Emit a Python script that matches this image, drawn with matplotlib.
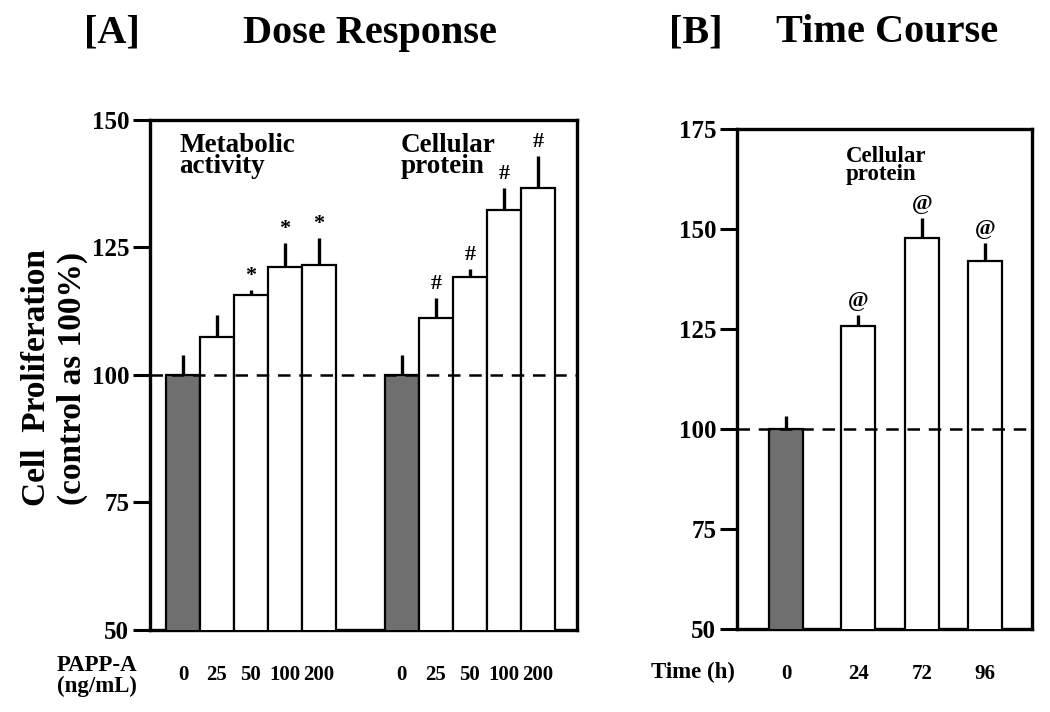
import matplotlib
matplotlib.use("Agg")
import matplotlib.pyplot as plt
import numpy as np

plt.rcParams['font.family'] = ['Liberation Serif', 'DejaVu Serif']
plt.rcParams['font.weight'] = 'bold'

# ---------------- data ----------------
dose_labels = ['0', '25', '50', '100', '200']
metabolic = [100.0, 107.4, 115.6, 121.1, 121.6]
metabolic_err = [3.9, 4.3, 1.1, 4.8, 5.3]
metabolic_marks = ['', '', '*', '*', '*']
protein = [100.0, 111.2, 119.3, 132.4, 136.7]
protein_err = [3.9, 3.8, 1.5, 4.3, 6.2]
protein_marks = ['', '#', '#', '#', '#']

time_labels = ['0', '24', '72', '96']
time_protein = [100.0, 125.8, 147.8, 141.9]
time_err = [3.2, 2.6, 4.9, 4.5]
time_marks = ['', '@', '@', '@']

# ---------------- layout ----------------
W, H = 1050, 712
fig = plt.figure(figsize=(W / 100, H / 100), dpi=100)

def px_axes(l, t, r, b):
    return fig.add_axes([l / W, 1 - b / H, (r - l) / W, (b - t) / H])

axA = px_axes(150, 120, 577, 630)
axB = px_axes(737, 129, 1032, 629)

dark = '#6f6f6f'
spine_lw = 2.4
edge_lw = 1.6
tick_fs = 18
label_fs = 15

def style_axes(ax, yticks):
    for s in ax.spines.values():
        s.set_linewidth(spine_lw)
    ax.set_yticks(yticks)
    ax.set_yticklabels([str(v) for v in yticks], fontsize=tick_fs, fontweight='bold')
    ax.tick_params(axis='y', length=12, width=2.2, direction='out', pad=3)
    ax.tick_params(axis='x', length=0, pad=25)
    ax.axhline(100, color='black', lw=1.8, ls=(0, (5, 3.5)), zorder=5)

def draw_group(ax, xs, vals, errs, marks, mark_fs):
    colors = [dark] + ['white'] * (len(vals) - 1)
    ax.bar(xs, vals, width=1.0, bottom=0, color=colors, edgecolor='black',
           linewidth=edge_lw, zorder=3)
    ax.errorbar(xs, vals, yerr=[np.zeros(len(errs)), errs], fmt='none',
                ecolor='black', elinewidth=2.4, capsize=0, zorder=4)
    for x, v, e, m in zip(xs, vals, errs, marks):
        if m:
            ax.annotate(m, (x, v + e), xytext=(0, 3), textcoords='offset points',
                        ha='center', va='bottom', fontsize=mark_fs, fontweight='bold')

# ---- Panel A ----
g1 = np.arange(5)
g2 = np.arange(5) + 6.44
draw_group(axA, g1, metabolic, metabolic_err, metabolic_marks, 16)
draw_group(axA, g2, protein, protein_err, protein_marks, 16)
axA.set_xlim(-0.97, 11.59)
axA.set_ylim(50, 150)
style_axes(axA, [50, 75, 100, 125, 150])
axA.set_xticks(list(g1) + list(g2))
axA.set_xticklabels(dose_labels + dose_labels, fontsize=label_fs, fontweight='bold')
axA.text(0.068, 0.975, 'Metabolic\nactivity', transform=axA.transAxes, ha='left', va='top',
         fontsize=19.5, fontweight='bold', linespacing=0.8)
axA.text(0.587, 0.975, 'Cellular\nprotein', transform=axA.transAxes, ha='left', va='top',
         fontsize=19.5, fontweight='bold', linespacing=0.8)

# ---- Panel B ----
tpos = [0, 2.13, 4.0, 5.85]
draw_group(axB, tpos, time_protein, time_err, time_marks, 16)
axB.set_xlim(-1.44, 7.24)
axB.set_ylim(50, 175)
style_axes(axB, [50, 75, 100, 125, 150, 175])
axB.set_xticks(tpos)
axB.set_xticklabels(time_labels, fontsize=label_fs, fontweight='bold')
axB.text(0.37, 0.965, 'Cellular\nprotein', transform=axB.transAxes, ha='left', va='top',
         fontsize=16.5, fontweight='bold', linespacing=0.78)

# ---- figure texts ----
fig.text(37 / W, 1 - 378 / H, 'Cell  Proliferation', rotation=90, ha='center', va='center',
         fontsize=24, fontweight='bold')
fig.text(72 / W, 1 - 378 / H, '(control as 100%)', rotation=90, ha='center', va='center',
         fontsize=24, fontweight='bold')
fig.text(57 / W, 1 - 676 / H, 'PAPP-A\n(ng/mL)', ha='left', va='center',
         fontsize=16.5, fontweight='bold', linespacing=1.0)
fig.text(693 / W, 1 - 672 / H, 'Time (h)', ha='center', va='center',
         fontsize=16.5, fontweight='bold')

fig.text(112 / W, 1 - 33 / H, '[A]', ha='center', va='center', fontsize=29, fontweight='bold')
fig.text(370 / W, 1 - 33 / H, 'Dose Response', ha='center', va='center', fontsize=29, fontweight='bold')
fig.text(696 / W, 1 - 33 / H, '[B]', ha='center', va='center', fontsize=29, fontweight='bold')
fig.text(887 / W, 1 - 33 / H, 'Time Course', ha='center', va='center', fontsize=29, fontweight='bold')

fig.savefig('out.png', dpi=100)
